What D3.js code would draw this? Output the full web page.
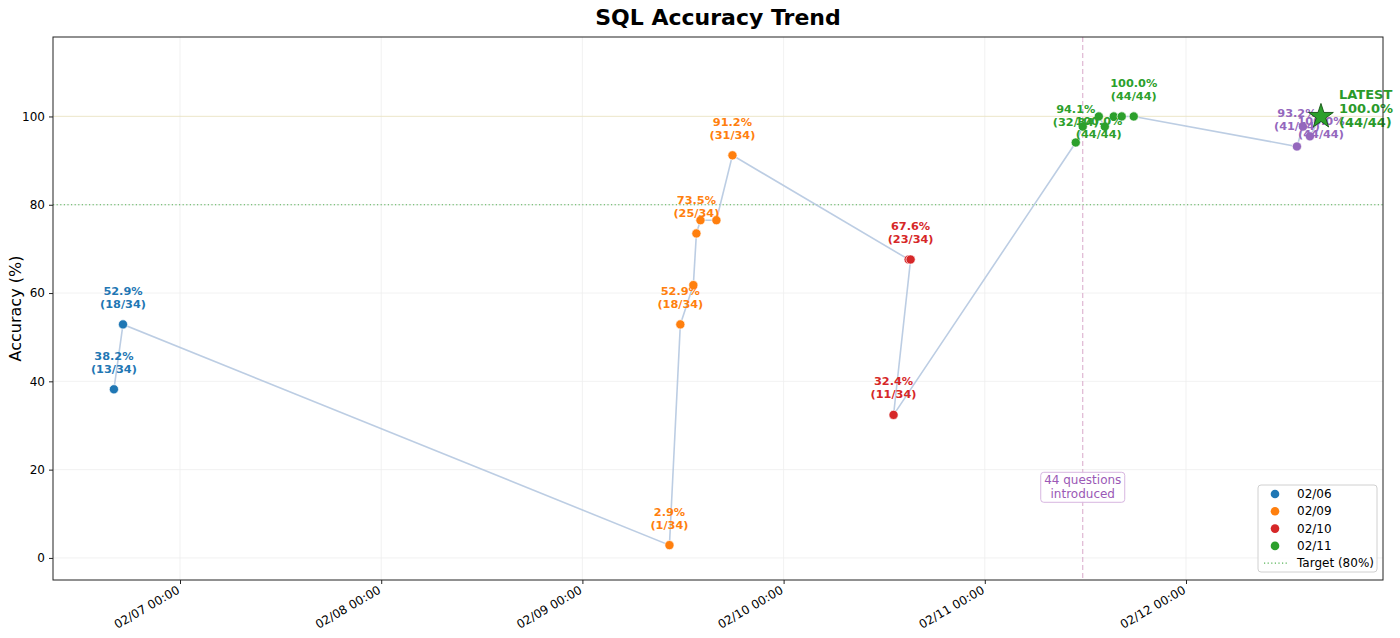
<!DOCTYPE html>
<html>
<head>
<meta charset="utf-8">
<script src="https://cdn.jsdelivr.net/npm/d3@7/dist/d3.min.js"></script>
<style>
  html, body { margin: 0; padding: 0; background: #fff; }
  svg { display: block; font-family: "DejaVu Sans", sans-serif; }
</style>
</head>
<body>
<svg id="chart" width="1400" height="638"></svg>
<script>
// ---------- data (in the order the trend line joins them) ----------
const runTimes = [
  "2025-02-06 16:07", "2025-02-06 17:12",
  "2025-02-09 10:23", "2025-02-09 11:41", "2025-02-09 13:14", "2025-02-09 13:36",
  "2025-02-09 14:05", "2025-02-09 15:59", "2025-02-09 17:54",
  "2025-02-10 14:55", "2025-02-10 15:09", "2025-02-10 13:07",
  "2025-02-11 10:51", "2025-02-11 11:41", "2025-02-11 13:36", "2025-02-11 14:19",
  "2025-02-11 15:23", "2025-02-11 16:20", "2025-02-11 17:46",
  "2025-02-12 13:14", "2025-02-12 13:57", "2025-02-12 14:47", "2025-02-12 16:06"
];
const accuracy = [
  38.2, 52.9,
  2.9, 52.9, 61.8, 73.5, 76.5, 76.5, 91.2,
  67.6, 67.6, 32.4,
  94.1, 97.7, 100.0, 97.7, 100.0, 100.0, 100.0,
  93.2, 97.7, 95.5, 100.0
];
const correct = [
  13, 18,
  1, 18, 21, 25, 26, 26, 31,
  23, 23, 11,
  32, 43, 44, 43, 44, 44, 44,
  41, 43, 42, 44
];
const totals = [
  34, 34,
  34, 34, 34, 34, 34, 34, 34,
  34, 34, 34,
  34, 44, 44, 44, 44, 44, 44,
  44, 44, 44, 44
];
const runDays = [
  "02/06", "02/06",
  "02/09", "02/09", "02/09", "02/09", "02/09", "02/09", "02/09",
  "02/10", "02/10", "02/10",
  "02/11", "02/11", "02/11", "02/11", "02/11", "02/11", "02/11",
  "02/12", "02/12", "02/12", "02/12"
];
// which runs carry a value label, and on which side
const labelSide = [
  "above", "above",
  "above", "above", "none", "above", "none", "none", "above",
  "none", "above", "above",
  "above", "none", "below", "none", "none", "none", "above",
  "above", "none", "none", "below"
];
const dayNames = ["02/06", "02/09", "02/10", "02/11", "02/12"];
const dayColors = ["#1f77b4", "#ff7f0e", "#d62728", "#2ca02c", "#9467bd"];
const legendDays = ["02/06", "02/09", "02/10", "02/11"];
const yTicks = [0, 20, 40, 60, 80, 100];
const xTickDays = ["2025-02-07 00:00", "2025-02-08 00:00", "2025-02-09 00:00",
                   "2025-02-10 00:00", "2025-02-11 00:00", "2025-02-12 00:00"];
const targetValue = 80;
const perfectValue = 100;
const questionsIntroduced = "2025-02-11 11:41";
const latestIndex = runTimes.length - 1;

// ---------- setup ----------
const parse = d3.utcParse("%Y-%m-%d %H:%M");
const fmt = d3.utcFormat("%m/%d %H:%M");
const runs = runTimes.map((t, i) => ({
  t: parse(t), acc: accuracy[i], c: correct[i], n: totals[i],
  day: runDays[i], side: labelSide[i]
}));

const svg = d3.select("#chart");
const W = 1400, H = 638;
const m = { left: 53, right: 17, top: 37, bottom: 58 };
const x0 = m.left, x1 = W - m.right, y0 = m.top, y1 = H - m.bottom;

const x = d3.scaleUtc()
  .domain([parse("2025-02-06 08:51"), parse("2025-02-12 23:30")])
  .range([x0, x1]);
const y = d3.scaleLinear().domain([-5, 118]).range([y1, y0]);
const color = d3.scaleOrdinal().domain(dayNames).range(dayColors);

// title
svg.append("text")
  .attr("x", (x0 + x1) / 2).attr("y", 17)
  .attr("text-anchor", "middle").attr("dominant-baseline", "central")
  .attr("font-size", 22).attr("font-weight", "bold")
  .text("SQL Accuracy Trend");

// grid
const xTickDates = xTickDays.map(parse);
const grid = svg.append("g");
grid.selectAll(".hg").data(yTicks).enter().append("line")
  .attr("x1", x0).attr("x2", x1)
  .attr("y1", d => y(d)).attr("y2", d => y(d))
  .attr("stroke", "#ededed").attr("stroke-width", 0.8);
grid.selectAll(".vg").data(xTickDates).enter().append("line")
  .attr("y1", y0).attr("y2", y1)
  .attr("x1", d => x(d)).attr("x2", d => x(d))
  .attr("stroke", "#ededed").attr("stroke-width", 0.8);

// reference lines
svg.append("line")
  .attr("x1", x0).attr("x2", x1)
  .attr("y1", y(perfectValue)).attr("y2", y(perfectValue))
  .attr("stroke", "rgba(235,215,130,0.28)").attr("stroke-width", 1.2);
svg.append("line")
  .attr("x1", x0).attr("x2", x1)
  .attr("y1", y(targetValue)).attr("y2", y(targetValue))
  .attr("stroke", "#2ca02c").attr("stroke-opacity", 0.8)
  .attr("stroke-width", 1.2).attr("stroke-dasharray", "1.2,2.4");
const qx = x(parse(questionsIntroduced));
svg.append("line")
  .attr("x1", qx).attr("x2", qx).attr("y1", y0).attr("y2", y1)
  .attr("stroke", "#dcb0cf").attr("stroke-width", 1.1)
  .attr("stroke-dasharray", "5,3");

// annotation box
const ann = svg.append("g").attr("transform", `translate(${qx},${y(16)})`);
ann.append("rect")
  .attr("x", -42).attr("y", -15).attr("width", 84).attr("height", 30)
  .attr("rx", 3).attr("fill", "#fff").attr("fill-opacity", 0.9)
  .attr("stroke", "#d7b6e0").attr("stroke-width", 1);
ann.append("text").attr("text-anchor", "middle").attr("y", -7)
  .attr("dominant-baseline", "central")
  .attr("font-size", 12).attr("fill", "#9b59b6").text("44 questions");
ann.append("text").attr("text-anchor", "middle").attr("y", 7)
  .attr("dominant-baseline", "central")
  .attr("font-size", 12).attr("fill", "#9b59b6").text("introduced");

// trend line
svg.append("path")
  .datum(runs)
  .attr("d", d3.line().x(d => x(d.t)).y(d => y(d.acc)))
  .attr("fill", "none").attr("stroke", "#b0c4de")
  .attr("stroke-opacity", 0.85).attr("stroke-width", 1.6);

// points
svg.append("g").selectAll("circle").data(runs).enter().append("circle")
  .attr("cx", d => x(d.t)).attr("cy", d => y(d.acc)).attr("r", 4.6)
  .attr("fill", d => color(d.day))
  .attr("stroke", "#fff").attr("stroke-width", 0.7);

// value labels
const lab = svg.append("g").attr("font-size", 11.3).attr("font-weight", "bold")
  .attr("text-anchor", "middle");
runs.forEach(d => {
  if (d.side === "none") return;
  const px = x(d.t), py = y(d.acc);
  const first = d.side === "above" ? py - 33 : py + 5;
  const lines = [d.acc.toFixed(1) + "%", `(${d.c}/${d.n})`];
  lines.forEach((s, k) => {
    lab.append("text").attr("x", px).attr("y", first + k * 13)
      .attr("dominant-baseline", "central")
      .attr("fill", color(d.day)).text(s);
  });
});

// latest star
const latest = runs[latestIndex];
const lx = x(latest.t), ly = y(latest.acc);
svg.append("path")
  .attr("d", d3.symbol().type(d3.symbolStar).size(190)())
  .attr("transform", `translate(${lx},${ly})`)
  .attr("fill", "#2ca02c").attr("stroke", "#145214").attr("stroke-width", 0.9);
const latestLines = ["LATEST", latest.acc.toFixed(1) + "%", `(${latest.c}/${latest.n})`];
latestLines.forEach((s, k) => {
  svg.append("text").attr("x", lx + 18).attr("y", ly - 22 + k * 14)
    .attr("dominant-baseline", "central")
    .attr("font-size", 13).attr("font-weight", "bold")
    .attr("fill", "#2a9a2a").text(s);
});

// axes frame
svg.append("rect").attr("x", x0).attr("y", y0)
  .attr("width", x1 - x0).attr("height", y1 - y0)
  .attr("fill", "none").attr("stroke", "#222").attr("stroke-width", 1);

// y axis
const ya = svg.append("g").attr("transform", `translate(${x0},0)`)
  .call(d3.axisLeft(y).tickValues(yTicks).tickSize(4).tickPadding(4));
ya.select(".domain").remove();
ya.selectAll("text").attr("font-size", 12).attr("fill", "#000")
  .attr("font-family", "DejaVu Sans, sans-serif");
ya.selectAll("line").attr("stroke", "#222");

// x axis
const xa = svg.append("g").attr("transform", `translate(0,${y1})`)
  .call(d3.axisBottom(x).tickValues(xTickDates).tickFormat(fmt).tickSize(4));
xa.select(".domain").remove();
xa.selectAll("line").attr("stroke", "#222");
xa.selectAll("text")
  .attr("font-size", 12).attr("fill", "#000")
  .attr("font-family", "DejaVu Sans, sans-serif")
  .attr("text-anchor", "end")
  .attr("dy", null).attr("y", 0)
  .attr("transform", "translate(-2,9) rotate(-30)")
  .attr("dominant-baseline", "central");

// y label
svg.append("text")
  .attr("transform", `translate(15,${(y0 + y1) / 2}) rotate(-90)`)
  .attr("text-anchor", "middle").attr("dominant-baseline", "central")
  .attr("font-size", 16).text("Accuracy (%)");

// legend
const lg = svg.append("g").attr("transform", `translate(${x1 - 125},${y1 - 95})`);
lg.append("rect").attr("x", 0).attr("y", 0).attr("width", 119).attr("height", 87)
  .attr("rx", 3).attr("fill", "#fff").attr("fill-opacity", 0.85)
  .attr("stroke", "#d0d0d0");
legendDays.forEach((d, i) => {
  const yy = 9 + i * 17.3;
  lg.append("circle").attr("cx", 17).attr("cy", yy).attr("r", 4.3).attr("fill", color(d));
  lg.append("text").attr("x", 39).attr("y", yy).attr("dominant-baseline", "central")
    .attr("font-size", 12).text(d);
});
const ty = 9 + 4 * 17.3;
lg.append("line").attr("x1", 6).attr("x2", 30).attr("y1", ty).attr("y2", ty)
  .attr("stroke", "#2ca02c").attr("stroke-opacity", 0.8).attr("stroke-width", 1.2)
  .attr("stroke-dasharray", "1.2,2.4");
lg.append("text").attr("x", 39).attr("y", ty).attr("dominant-baseline", "central")
  .attr("font-size", 12).text("Target (80%)");
</script>
</body>
</html>
